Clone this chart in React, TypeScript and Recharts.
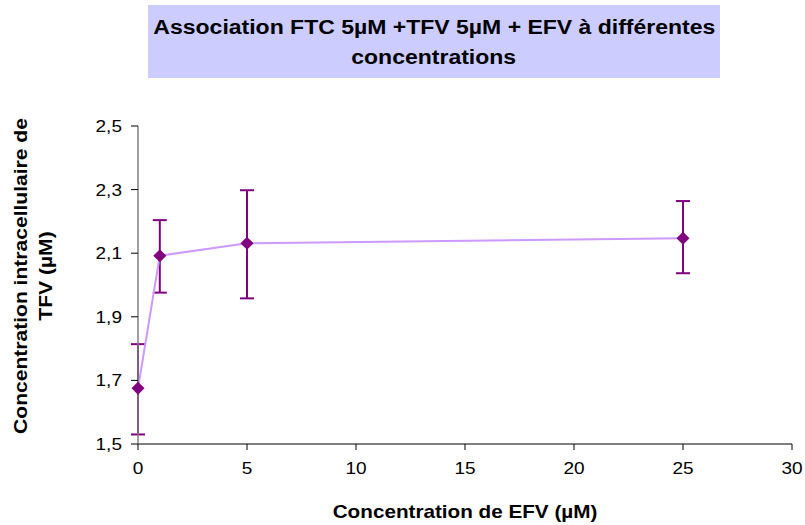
import React from "react"
import { LineChart, Line, XAxis, YAxis, ErrorBar, Label } from "recharts"

// EFV concentration (µM)
const efvConc = [0, 1, 5, 25]
// intracellular TFV concentration (µM)
const tfvMean = [1.675, 2.092, 2.131, 2.147]
const errLower = [0.145, 0.116, 0.173, 0.11]
const errUpper = [0.139, 0.112, 0.167, 0.117]

const xTicks = [0, 5, 10, 15, 20, 25, 30]
const yTicks = [1.5, 1.7, 1.9, 2.1, 2.3, 2.5]

const titleLines = ["Association FTC 5µM +TFV 5µM + EFV à différentes", "concentrations"]
const xTitle = "Concentration de EFV (µM)"
const yTitleLines = ["Concentration intracellulaire de", "TFV (µM)"]

const FONT = "'Liberation Sans', Arial, sans-serif"
// the original picture is a bit stretched sideways
const STRETCH = 1.15

const data = efvConc.map((x, i) => ({
    x,
    y: tfvMean[i],
    err: [errLower[i], errUpper[i]],
}))

const Diamond = (props: any) => {
    const { cx, cy } = props
    if (cx == null || cy == null) return null
    const r = 6.5
    return (
        <polygon
            points={`${cx},${cy - r} ${cx + r},${cy} ${cx},${cy + r} ${cx - r},${cy}`}
            fill="#800080"
            stroke="none"
        />
    )
}

const XTick = (props: any) => {
    const { x, y, payload } = props
    return (
        <text
            transform={`translate(${x},${y + 16}) scale(1.12,1)`}
            textAnchor="middle"
            fontFamily={FONT}
            fontSize={17}
            fill="#000"
        >
            {payload.value}
        </text>
    )
}

const YTick = (props: any) => {
    const { x, y, payload } = props
    return (
        <text
            transform={`translate(${x - 2},${y + 6}) scale(1.12,1)`}
            textAnchor="end"
            fontFamily={FONT}
            fontSize={17}
            fill="#000"
        >
            {payload.value.toFixed(1).replace(".", ",")}
        </text>
    )
}

export default function App() {
    return (
        <div style={{ position: "fixed", left: 0, top: 0, width: 805, height: 525, background: "#fff", fontFamily: FONT }}>
            {/* title box */}
            <div
                style={{
                    position: "absolute",
                    left: 148,
                    top: 5,
                    width: 572,
                    height: 73,
                    background: "#ccccff",
                    display: "flex",
                    flexDirection: "column",
                    justifyContent: "center",
                    alignItems: "center",
                    fontWeight: "bold",
                    fontSize: 20,
                    lineHeight: "30px",
                    color: "#000",
                }}
            >
                {titleLines.map((t, i) => (
                    <div key={i} style={{ transform: `scaleX(${STRETCH})`, whiteSpace: "nowrap" }}>{t}</div>
                ))}
            </div>

            <LineChart
                width={805}
                height={525}
                data={data}
                margin={{ top: 126, right: 13, bottom: 0, left: 0 }}
                style={{ position: "absolute", left: 0, top: 0 }}
            >
                <XAxis
                    dataKey="x"
                    type="number"
                    domain={[0, 30]}
                    ticks={xTicks}
                    height={81}
                    axisLine={{ stroke: "#000", strokeWidth: 1 }}
                    tickLine={{ stroke: "#000" }}
                    tickSize={6}
                    tick={<XTick />}
                    tickMargin={8}
                >
                    <Label
                        content={() => (
                            <text
                                transform={`translate(465,518) scale(${STRETCH},1)`}
                                textAnchor="middle"
                                fontFamily={FONT}
                                fontWeight="bold"
                                fontSize={18}
                                fill="#000"
                            >
                                {xTitle}
                            </text>
                        )}
                    />
                </XAxis>
                <YAxis
                    type="number"
                    domain={[1.5, 2.5]}
                    ticks={yTicks}
                    width={138}
                    axisLine={{ stroke: "#808080", strokeWidth: 1.5 }}
                    tickLine={{ stroke: "#000" }}
                    tickSize={7}
                    tickMargin={7}
                    tick={<YTick />}
                >
                    <Label
                        content={() => (
                            <g transform="translate(0, 276) rotate(-90)">
                                {yTitleLines.map((t, i) => (
                                    <text
                                        key={i}
                                        transform={`translate(0,${27 + i * 25}) scale(1.17,1)`}
                                        textAnchor="middle"
                                        fontFamily={FONT}
                                        fontWeight="bold"
                                        fontSize={18}
                                        fill="#000"
                                    >
                                        {t}
                                    </text>
                                ))}
                            </g>
                        )}
                    />
                </YAxis>
                <Line
                    dataKey="y"
                    stroke="#cc99ff"
                    strokeWidth={2}
                    dot={<Diamond />}
                    activeDot={false}
                    isAnimationActive={false}
                >
                    <ErrorBar dataKey="err" direction="y" width={7} stroke="#800080" strokeWidth={2} />
                </Line>
            </LineChart>
        </div>
    )
}
